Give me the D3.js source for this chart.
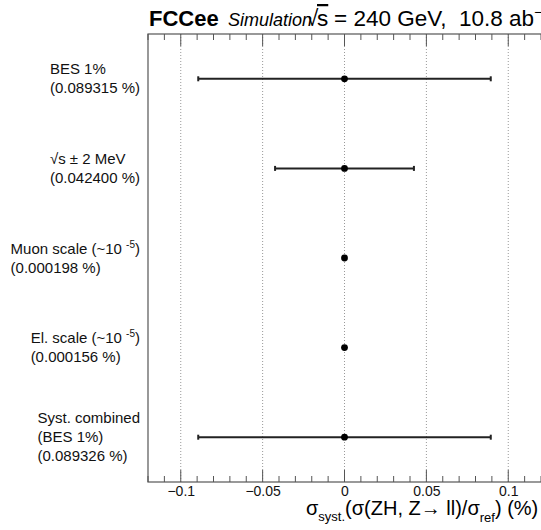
<!DOCTYPE html>
<html>
<head>
<meta charset="utf-8">
<script src="https://cdn.jsdelivr.net/npm/d3@7"></script>
<style>
  body { margin: 0; background: #fff; }
  text { font-family: "Liberation Sans", Arial, sans-serif; white-space: pre; }
</style>
</head>
<body>
<svg id="chart" width="541" height="530"></svg>
<script>
// Systematic sources (top to bottom)
const labels = [
  ["BES 1%", "(0.089315 %)"],
  ["√s ± 2 MeV", "(0.042400 %)"],
  ["Muon scale (~10^-5)", "(0.000198 %)"],
  ["El. scale (~10^-5)", "(0.000156 %)"],
  ["Syst. combined", "(BES 1%)", "(0.089326 %)"]
];
const centers = [0, 0, 0, 0, 0];
const errors = [0.089315, 0.042400, 0.000198, 0.000156, 0.089326];
const tickValues = [-0.1, -0.05, 0, 0.05, 0.1];
const tickLabels = ["\u22120.1", "\u22120.05", "0", "0.05", "0.1"];

const svg = d3.select("#chart"),
      margin = { top: 34, right: 0, bottom: 48, left: 148 },
      width = +svg.attr("width"),
      height = +svg.attr("height");

const x = d3.scaleLinear().domain([-0.12, 0.12]).range([margin.left, width - margin.right]);
const y = d3.scaleBand().domain(d3.range(labels.length)).range([margin.top, height - margin.bottom]);

// dotted grid at major ticks
svg.append("g").selectAll("line")
  .data(tickValues)
  .enter().append("line")
  .attr("x1", d => x(d)).attr("x2", d => x(d))
  .attr("y1", margin.top).attr("y2", height - margin.bottom)
  .attr("stroke", "#999").attr("stroke-width", 1)
  .attr("stroke-dasharray", "1,2");

// frame
svg.append("rect")
  .attr("x", margin.left).attr("y", margin.top)
  .attr("width", width - margin.right - margin.left + 2)
  .attr("height", height - margin.bottom - margin.top)
  .attr("fill", "none").attr("stroke", "#555").attr("stroke-width", 1.2);

// ticks, bottom and top
const minor = d3.range(-0.12, 0.1201, 0.01).map(d => +d.toFixed(2));
[height - margin.bottom, margin.top].forEach((y0, i) => {
  const dir = i === 0 ? -1 : 1;
  svg.append("g").selectAll("line")
    .data(minor)
    .enter().append("line")
    .attr("x1", d => x(d)).attr("x2", d => x(d))
    .attr("y1", y0)
    .attr("y2", d => y0 + dir * (tickValues.some(t => Math.abs(t - d) < 1e-9) ? 12 : 6))
    .attr("stroke", "#555").attr("stroke-width", 1);
});

// tick labels
const xAxis = d3.axisBottom(x).tickValues(tickValues)
  .tickFormat((d, i) => tickLabels[i]).tickSize(0).tickPadding(0);
const gx = svg.append("g")
  .attr("transform", `translate(0,${height - margin.bottom})`)
  .call(xAxis);
gx.select(".domain").remove();
gx.selectAll("text")
  .attr("dy", null).attr("y", 14)
  .attr("fill", "#111")
  .style("font-size", "14px")
  .style("font-family", "'Liberation Sans', Arial, sans-serif");

// error bars
const bars = svg.append("g");
errors.forEach((e, i) => {
  const cy = y(i) + y.bandwidth() / 2;
  const x1 = x(centers[i] - e), x2 = x(centers[i] + e);
  bars.append("line")
    .attr("x1", x1).attr("x2", x2).attr("y1", cy).attr("y2", cy)
    .attr("stroke", "#222").attr("stroke-width", 2);
  [x1, x2].forEach(xe => {
    bars.append("line")
      .attr("x1", xe).attr("x2", xe).attr("y1", cy - 2.5).attr("y2", cy + 2.5)
      .attr("stroke", "#222").attr("stroke-width", 2);
  });
  bars.append("circle")
    .attr("cx", x(centers[i])).attr("cy", cy).attr("r", 3.4)
    .attr("fill", "#000");
});

// labels on the left, lines left-aligned, block right-aligned
const lineH = 19;
labels.forEach((lines, i) => {
  const cy = y(i) + y.bandwidth() / 2;
  const g = svg.append("g");
  const t = g.append("text").style("font-size", "15px").attr("fill", "#111");
  lines.forEach((ln, j) => {
    const yy = cy - (lines.length - 1) * lineH / 2 + j * lineH + 5;
    const m = ln.match(/^(.*)\^(-\d+)\)$/);
    if (m) {
      const row = t.append("tspan").attr("x", 0).attr("y", yy);
      row.append("tspan").text(m[1] + " ");
      row.append("tspan").attr("dy", -6).style("font-size", "10px").text(m[2]);
      row.append("tspan").attr("dy", 6).text(")");
    } else {
      t.append("tspan").attr("x", 0).attr("y", yy).text(ln);
    }
  });
  const w = t.node().getBBox().width;
  g.attr("transform", `translate(${140 - w},0)`);
});

// header
const head = svg.append("text").attr("y", 26).attr("fill", "#000");
head.append("tspan").attr("x", 149).style("font-size", "22px").style("font-weight", "bold").text("FCCee");
head.append("tspan").attr("x", 228).style("font-size", "18px").style("font-style", "italic").text("Simulation");
head.append("tspan").attr("x", 306).style("font-size", "22.5px").text("\u221A");
head.append("tspan").attr("x", 317).style("font-size", "22.5px")
  .style("text-decoration", "overline").text("s");
head.append("tspan").attr("x", 334).style("font-size", "22.5px").text("= 240 GeV,  10.8 ab");
head.append("tspan").attr("dy", -9).style("font-size", "14px").text("\u22121");

// axis title
const xt = svg.append("text").attr("y", 515).attr("fill", "#000").style("font-size", "20px");
xt.append("tspan").attr("x", 306).text("σ");
xt.append("tspan").attr("dy", 6).style("font-size", "13px").text("syst.");
xt.append("tspan").attr("dy", -6).text("(σ(ZH, Z\u2192 ll)/σ");
xt.append("tspan").attr("dy", 7).style("font-size", "13px").text("ref");
xt.append("tspan").attr("dy", -7).text(") (%)");
</script>
</body>
</html>
